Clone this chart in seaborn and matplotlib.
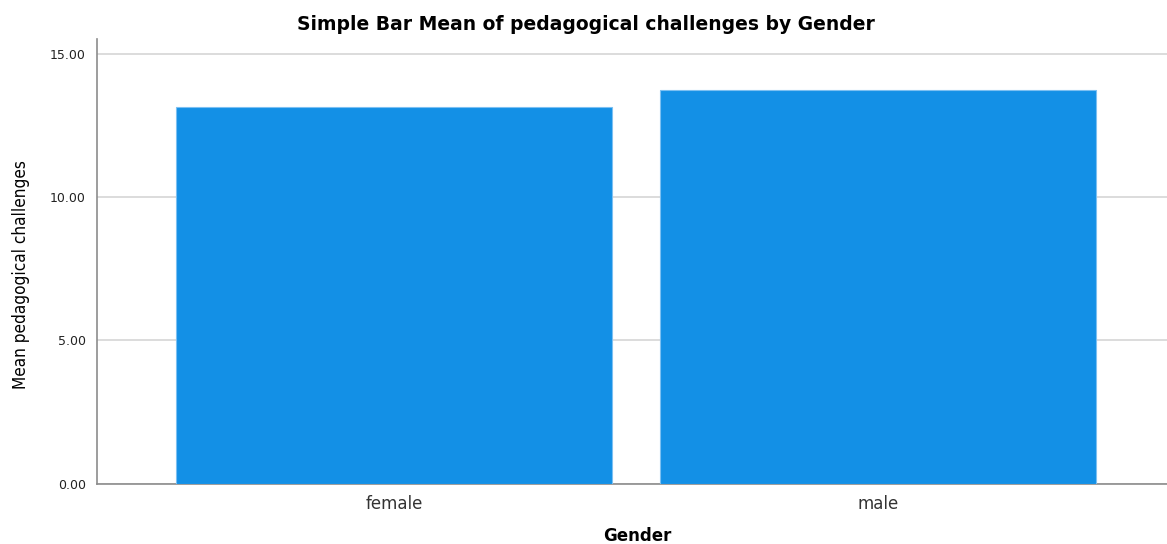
import matplotlib
matplotlib.use("Agg")
import matplotlib.pyplot as plt
import pandas as pd
import seaborn as sns
from matplotlib.ticker import FormatStrFormatter

# Data
genders = ["female", "male"]
mean_challenges = [13.16, 13.74]
y_ticks = [0, 5, 10, 15]

df = pd.DataFrame({"Gender": genders, "Mean": mean_challenges})

sns.set_style("white")
plt.rcParams["font.family"] = ["DejaVu Sans"]

fig = plt.figure(figsize=(11.67, 5.44), dpi=100)
ax = fig.add_axes([0.0831, 0.111, 0.917, 0.817])

sns.barplot(data=df, x="Gender", y="Mean", color="#1390E6", saturation=1,
            width=0.9, edgecolor="#7cc0f2", linewidth=0.8, ax=ax, zorder=3)

ax.set_xlim(-0.614, 1.597)
ax.set_ylim(0, 15.52)
ax.set_yticks(y_ticks)
ax.yaxis.set_major_formatter(FormatStrFormatter("%.2f"))
ax.yaxis.grid(True, color="#d6d6d6", linewidth=1.2, zorder=0)
ax.set_axisbelow(True)

for s in ["top", "right"]:
    ax.spines[s].set_visible(False)
for s in ["left", "bottom"]:
    ax.spines[s].set_color("#8c8c8c")
    ax.spines[s].set_linewidth(1.2)

ax.tick_params(axis="y", labelsize=9, colors="#222222", length=4, width=1, color="#8c8c8c", pad=4)
ax.tick_params(axis="x", labelsize=12, colors="#333333", length=0, pad=8)

# title placed in figure coords to match the reference
fig.text(0.502, 0.955, "Simple Bar Mean of pedagogical challenges by Gender",
         fontsize=13.5, fontweight="bold", color="black", ha="center", va="center")

ax.set_xlabel("Gender", fontsize=12, fontweight="bold", color="black")
ax.xaxis.set_label_coords(0.505, -0.118)
ax.xaxis.label.set_va("center")
ax.set_ylabel("Mean pedagogical challenges", fontsize=12.3, color="black",
              family="DejaVu Sans", stretch="condensed")
ax.yaxis.set_label_coords(-0.063, 0.471)

fig.savefig("out.png", dpi=100)
